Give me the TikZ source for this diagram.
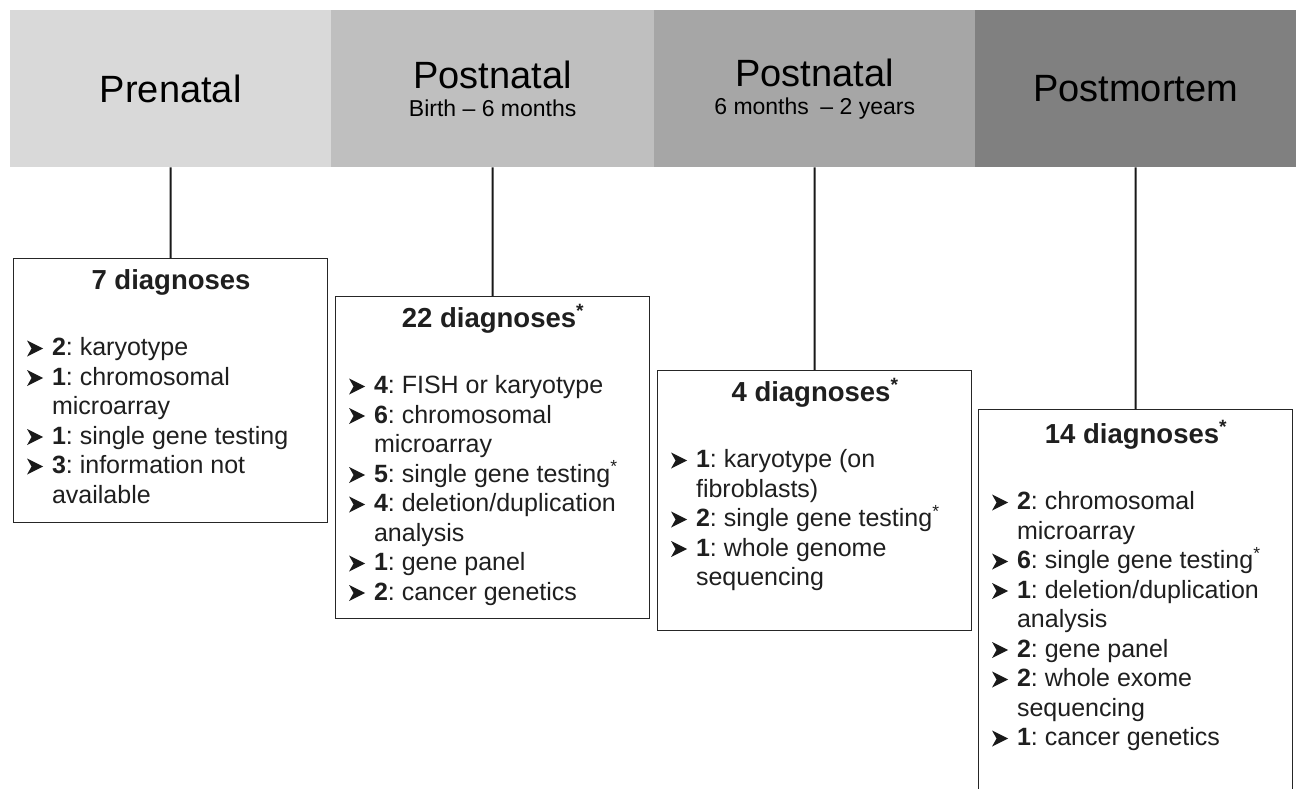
\documentclass[tikz,border=0pt]{standalone}
\usepackage{fontspec}
\setmainfont{Liberation Sans}

\tikzset{
  phase/.style={anchor=north west, minimum height=157pt, inner sep=0pt,
    align=center, font=\fontsize{38}{42}\selectfont},
  diagbox/.style={draw=black!85, line width=1.3pt, fill=white, anchor=north,
    minimum width=314pt, inner sep=0pt},
  boxtext/.style={anchor=base west, inner sep=0pt, text=black!88},
  link/.style={line width=2pt, black!90},
}

% title and bullet lines inside the boxes
\newcommand{\bul}{\tikz[baseline=0pt,x=1pt,y=1pt]
  \fill[black!90] (0,-1) -- (16,7) -- (0,15) -- (4.5,7) -- cycle;}
\newcommand{\dtitle}[1]{{\centering\fontsize{27.5}{32}\selectfont\bfseries #1\par}%
  \vspace{37pt}\fontsize{25}{29.5}\selectfont\raggedright}
\newcommand{\ditem}[2]{\par\hangindent=25pt\hangafter=1\noindent
  \makebox[25pt][l]{\bul}\textbf{#1}: #2}
\newcommand{\astr}{\textsuperscript{*}}
\newcommand{\sub}[1]{{\fontsize{23}{27}\selectfont #1}}

\begin{document}
\frenchspacing
\begin{tikzpicture}[x=1pt,y=-1pt]
\useasboundingbox (0,0) rectangle (1300,788);
\fill[white] (0,0) rectangle (1300,788);
\parskip=0pt

% Timeline band
\node[phase, fill=black!15, minimum width=321pt] (hd1) at (10,10) {Prenatal};
\node[phase, fill=black!25, minimum width=323pt] (hd2) at (331,10)
  {Postnatal\\[-14pt]\sub{Birth – 6 months}};
\node[phase, fill=black!35, minimum width=321pt] (hd3) at (654,10)
  {Postnatal\\[-14pt]\sub{6 months\enspace– 2 years}};
\node[phase, fill=black!50, minimum width=321pt] (hd4) at (975,10) {Postmortem};

% Diagnosis boxes
\node[diagbox, minimum height=264pt] (bx1) at (170.5,258) {};
\node[diagbox, minimum height=322pt] (bx2) at (492.5,296) {};
\node[diagbox, minimum height=260pt] (bx3) at (814.5,370) {};
\node[diagbox, minimum height=401pt] (bx4) at (1135.5,409) {};

\node[boxtext] (tx1) at ([xshift=14pt,yshift=-31pt]bx1.north west) {\parbox[t]{288pt}{%
  \dtitle{7 diagnoses}
  \ditem{2}{karyotype}
  \ditem{1}{chromosomal\newline microarray}
  \ditem{1}{single gene testing}
  \ditem{3}{information not\newline available}}};

\node[boxtext] (tx2) at ([xshift=14pt,yshift=-31pt]bx2.north west) {\parbox[t]{288pt}{%
  \dtitle{22 diagnoses\astr}
  \ditem{4}{FISH or karyotype}
  \ditem{6}{chromosomal\newline microarray}
  \ditem{5}{single gene testing\astr}
  \ditem{4}{deletion/duplication\newline analysis}
  \ditem{1}{gene panel}
  \ditem{2}{cancer genetics}}};

\node[boxtext] (tx3) at ([xshift=14pt,yshift=-31pt]bx3.north west) {\parbox[t]{288pt}{%
  \dtitle{4 diagnoses\astr}
  \ditem{1}{karyotype (on\newline fibroblasts)}
  \ditem{2}{single gene testing\astr}
  \ditem{1}{whole genome\newline sequencing}}};

\node[boxtext] (tx4) at ([xshift=14pt,yshift=-34pt]bx4.north west) {\parbox[t]{288pt}{%
  \dtitle{14 diagnoses\astr}
  \ditem{2}{chromosomal\newline microarray}
  \ditem{6}{single gene testing\astr}
  \ditem{1}{deletion/duplication\newline analysis}
  \ditem{2}{gene panel}
  \ditem{2}{whole exome\newline sequencing}
  \ditem{1}{cancer genetics}}};

% Connectors
\draw[link] (hd1.south) -- (bx1.north);
\draw[link] (hd2.south) -- (bx2.north);
\draw[link] (hd3.south) -- (bx3.north);
\draw[link] (hd4.south) -- (bx4.north);

\end{tikzpicture}
\end{document}
